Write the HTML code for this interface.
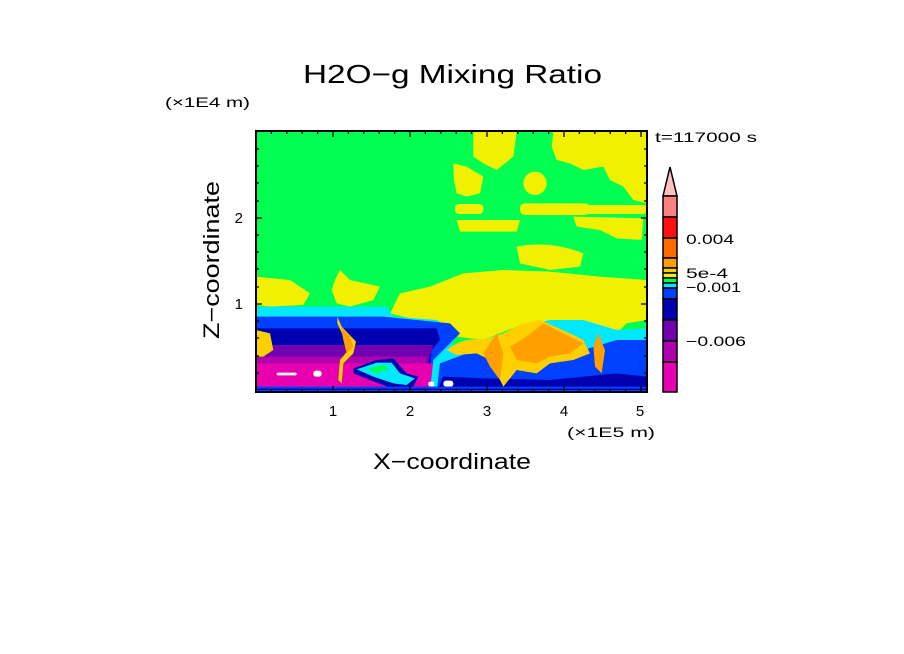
<!DOCTYPE html>
<html><head><meta charset="utf-8"><style>html,body{margin:0;padding:0;background:#fff}svg{display:block}</style></head>
<body>
<svg width="904" height="654" viewBox="0 0 904 654" xmlns="http://www.w3.org/2000/svg" font-family="Liberation Sans, sans-serif">
<rect width="904" height="654" fill="#fff"/>
<defs><clipPath id="pc"><rect x="256" y="131" width="391" height="261"/></clipPath></defs>
<g clip-path="url(#pc)">
<g transform="translate(250,120) scale(0.3333333)">
<rect x="18" y="33" width="1175" height="783" fill="#00ff50"/>
<g fill="#f0f000">
<path d="M670 35 L800 35 L790 110 L740 150 L700 130 L670 110 Z"/>
<path d="M610 130 L650 140 L700 170 L690 220 L650 230 L620 220 L612 180 Z"/>
<path d="M910 35 L1190 35 L1190 250 L1150 240 L1120 200 L1080 180 L1060 140 L1000 150 L960 130 L920 120 L905 80 Z"/>
<circle cx="855" cy="190" r="35"/>
<rect x="615" y="252" width="85" height="30" rx="12"/>
<rect x="810" y="250" width="210" height="35" rx="14"/>
<rect x="1000" y="255" width="190" height="27" rx="10"/>
<path d="M620 300 L810 300 L800 335 L630 335 Z"/>
<path d="M970 290 L1180 295 L1175 360 L1100 355 L1050 330 L980 320 Z"/>
<path d="M800 380 Q900 360 1000 400 L990 440 L900 450 L810 430 Z"/>
<path d="M18 470 L120 480 L180 520 L160 555 L60 560 L18 555 Z"/>
<path d="M270 450 L300 480 L390 500 L370 540 L300 560 L260 550 L245 510 L255 480 Z"/>
<path d="M420 580 L450 520 L540 500 L640 460 L760 450 L900 455 L1050 470 L1190 480 L1190 600 L1130 610 L1100 640 L1000 620 L900 610 L800 620 L700 660 L620 650 L560 620 L500 600 Z"/>
</g>
<path d="M18 560 L410 560 L430 590 L560 600 L620 640 L600 690 L560 720 L540 815 L18 815 Z" fill="#00e8ff"/>
<path d="M18 590 L400 590 L600 610 L630 640 L580 690 L550 720 L540 815 L18 815 Z" fill="#0040ff"/>
<path d="M18 625 L560 625 L570 660 L545 690 L530 815 L18 815 Z" fill="#0000b0"/>
<path d="M18 675 L550 675 L540 710 L520 815 L18 815 Z" fill="#7000b0"/>
<path d="M18 710 L530 710 L520 815 L18 815 Z" fill="#b000b0"/>
<path d="M18 730 L640 730 L640 800 L18 800 Z" fill="#e800b0"/>
<path d="M18 630 L60 640 L70 690 L40 710 L18 710 Z" fill="#ffd000"/>
<path d="M310 745 L380 720 L430 715 L470 760 L505 770 L490 800 L440 810 L360 780 L310 760 Z" fill="#0000b0"/>
<path d="M320 748 L380 728 L425 728 L450 760 L495 775 L470 795 L430 790 L370 770 Z" fill="#00e8ff"/>
<path d="M350 745 L400 735 L420 745 L380 760 Z" fill="#00ff50"/>
<path d="M540 815 L550 720 L600 680 L700 660 L800 625 L900 600 L1000 600 L1100 630 L1190 625 L1190 815 Z" fill="#00e8ff"/>
<path d="M560 815 L570 730 L650 700 L750 700 L850 690 L1000 690 L1100 660 L1190 660 L1190 815 Z" fill="#0040ff"/>
<path d="M560 815 L580 770 L700 775 L900 780 L1100 760 L1190 770 L1190 815 Z" fill="#0000b0"/>
<path d="M590 690 Q640 650 700 660 L760 640 L820 610 L870 600 L960 640 L1000 660 L1020 700 L970 720 L900 730 L860 760 L800 750 L760 800 L720 720 L680 700 L620 705 Z" fill="#ffd000"/>
<path d="M700 700 L740 640 L760 700 L750 780 L720 740 Z" fill="#ffa000"/>
<path d="M780 680 L830 650 L880 610 L940 640 L1000 670 L960 700 L900 710 L860 730 L800 720 Z" fill="#ffa000"/>
<path d="M1030 680 L1045 640 L1065 690 L1055 760 L1035 740 Z" fill="#ffa000"/>
<path d="M262 590 L275 620 L318 665 L310 700 L280 730 L275 790 L265 780 L270 720 L295 690 L280 650 L262 610 Z" fill="#ffd000"/>
<path d="M272 620 L300 650 L310 680 L290 700 L280 660 Z" fill="#ffa000"/>
<g fill="#fff">
<rect x="80" y="758" width="60" height="8" rx="4"/>
<rect x="190" y="752" width="25" height="18" rx="8"/>
<rect x="535" y="785" width="18" height="14" rx="6"/>
<rect x="580" y="782" width="30" height="18" rx="8"/>
</g>
<rect x="18" y="800" width="1175" height="15" fill="#0040ff"/>
<rect x="18" y="806" width="1175" height="4" fill="#0000b0"/>
</g>
</g>
<rect x="256" y="131" width="391" height="261" fill="none" stroke="#000" stroke-width="2"/>
<g stroke="#000" stroke-width="1.3">
<path d="M271.4 392v-3M286.8 392v-3M302.2 392v-3M317.6 392v-3M333 392v-6M348.4 392v-3M363.8 392v-3M379.2 392v-3M394.6 392v-3M410 392v-6M425.4 392v-3M440.8 392v-3M456.2 392v-3M471.6 392v-3M487 392v-6M502.4 392v-3M517.8 392v-3M533.2 392v-3M548.6 392v-3M564 392v-6M579.4 392v-3M594.8 392v-3M610.2 392v-3M625.6 392v-3M641 392v-6"/>
<path d="M271.4 131v3M286.8 131v3M302.2 131v3M317.6 131v3M333 131v6M348.4 131v3M363.8 131v3M379.2 131v3M394.6 131v3M410 131v6M425.4 131v3M440.8 131v3M456.2 131v3M471.6 131v3M487 131v6M502.4 131v3M517.8 131v3M533.2 131v3M548.6 131v3M564 131v6M579.4 131v3M594.8 131v3M610.2 131v3M625.6 131v3M641 131v6"/>
<path d="M256 373h3M256 356h3M256 338h3M256 321h3M256 304h6M256 287h3M256 269h3M256 252h3M256 235h3M256 218h6M256 201h3M256 183h3M256 166h3M256 149h3"/>
<path d="M647 373h-3M647 356h-3M647 338h-3M647 321h-3M647 304h-6M647 287h-3M647 269h-3M647 252h-3M647 235h-3M647 218h-6M647 201h-3M647 183h-3M647 166h-3M647 149h-3"/>
</g>
<g stroke="#000" stroke-width="1.5">
<path d="M663 196 L670 167 L677 196 Z" fill="#ffc0c0"/>
<rect x="663" y="196" width="14" height="21" fill="#ff8080"/>
<rect x="663" y="217" width="14" height="21" fill="#ff1010"/>
<rect x="663" y="238" width="14" height="20" fill="#ff6a00"/>
<rect x="663" y="258" width="14" height="10" fill="#ffa000"/>
<rect x="663" y="268" width="14" height="5" fill="#ffd000"/>
<rect x="663" y="273" width="14" height="5" fill="#f0f000"/>
<rect x="663" y="278" width="14" height="5" fill="#00ff50"/>
<rect x="663" y="283" width="14" height="5" fill="#00e8ff"/>
<rect x="663" y="288" width="14" height="11" fill="#0040ff"/>
<rect x="663" y="299" width="14" height="21" fill="#0000b0"/>
<rect x="663" y="320" width="14" height="21" fill="#7000b0"/>
<rect x="663" y="341" width="14" height="21" fill="#b000b0"/>
<rect x="663" y="362" width="14" height="30" fill="#e800b0"/>
</g>
<g font-size="14" fill="#000">
<text x="686" y="244" textLength="48" lengthAdjust="spacingAndGlyphs">0.004</text>
<text x="686" y="278" textLength="42" lengthAdjust="spacingAndGlyphs">5e-4</text>
<text x="686" y="292" textLength="55" lengthAdjust="spacingAndGlyphs">−0.001</text>
<text x="686" y="346" textLength="60" lengthAdjust="spacingAndGlyphs">−0.006</text>
<text x="655" y="142" textLength="102" lengthAdjust="spacingAndGlyphs">t=117000 s</text>
<text x="333" y="416" text-anchor="middle" font-size="15">1</text>
<text x="410" y="416" text-anchor="middle" font-size="15">2</text>
<text x="487" y="416" text-anchor="middle" font-size="15">3</text>
<text x="564" y="416" text-anchor="middle" font-size="15">4</text>
<text x="640" y="416" text-anchor="middle" font-size="15">5</text>
<text x="243" y="223" text-anchor="end" font-size="15">2</text>
<text x="243" y="309" text-anchor="end" font-size="15">1</text>
<text x="567" y="437" textLength="88" lengthAdjust="spacingAndGlyphs">(×1E5 m)</text>
<text x="165" y="107" textLength="85" lengthAdjust="spacingAndGlyphs">(×1E4 m)</text>
</g>
<text x="303" y="83" font-size="26" textLength="299" lengthAdjust="spacingAndGlyphs">H2O−g Mixing Ratio</text>
<text x="373" y="469" font-size="22" textLength="158" lengthAdjust="spacingAndGlyphs">X−coordinate</text>
<text transform="translate(219,339) rotate(-90)" font-size="22" textLength="158" lengthAdjust="spacingAndGlyphs">Z−coordinate</text>
</svg>
</body></html>
